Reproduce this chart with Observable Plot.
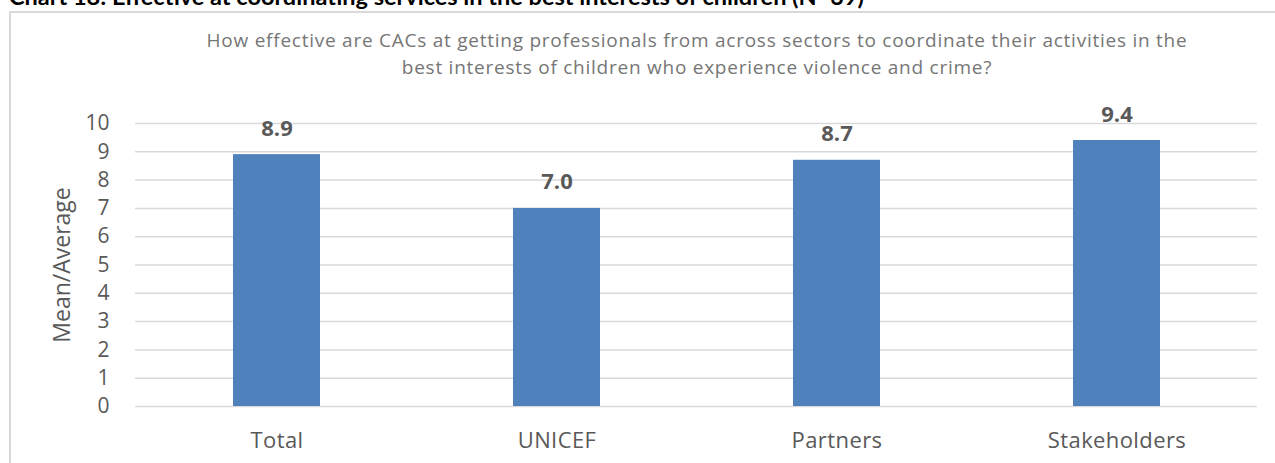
<!DOCTYPE html>
<html>
<head>
<meta charset="utf-8">
<script src="https://cdn.jsdelivr.net/npm/d3@7"></script>
<script src="https://cdn.jsdelivr.net/npm/@observablehq/plot@0.6"></script>
<style>
  html, body { margin: 0; padding: 0; background: #fff; overflow: hidden; }
  #wrap { position: relative; width: 1275px; height: 463px; font-family: "Open Sans", sans-serif; }
  #heading { position: absolute; left: 9px; top: -18px; font-family: Lato, sans-serif; font-size: 23.5px; font-weight: bold; color: #000; white-space: nowrap; }
  #box { position: absolute; left: 9px; top: 11px; width: 1300px; height: 500px; border: 1px solid #D9D9D9; border-width: 2px 0 0 2px; box-sizing: border-box; }
  #sub { position: absolute; left: 100px; width: 1194px; top: 27px; text-align: center; font-size: 19px; letter-spacing: 0.75px; line-height: 27px; color: #767676; }
  #chart { position: absolute; left: 0; top: 0; }
  #chart svg g[aria-label="x-axis tick label"] text { letter-spacing: 0.4px; }
</style>
</head>
<body>
<div id="wrap">
  <div id="heading">Chart 18: Effective at coordinating services in the best interests of children (N=39)</div>
  <div id="box"></div>
  <div id="sub">How effective are CACs at getting professionals from across sectors to coordinate their activities in the<br>best interests of children who experience violence and crime?</div>
  <div id="chart"></div>
</div>
<script>
const categories = ["Total", "UNICEF", "Partners", "Stakeholders"];
const values = [8.9, 7.0, 8.7, 9.4];
const yTicks = [0, 1, 2, 3, 4, 5, 6, 7, 8, 9, 10];
const yLabel = "Mean/Average";

const data = categories.map((c, i) => ({category: c, value: values[i]}));

const chart = Plot.plot({
  width: 1275,
  height: 463,
  marginLeft: 135,
  marginRight: 18,
  marginTop: 123,
  marginBottom: 57,
  style: {fontFamily: "'Open Sans', sans-serif", background: "transparent", color: "#595959"},
  x: {domain: categories, paddingInner: 0.69, paddingOuter: 0.345, label: null},
  y: {domain: [0, 10], ticks: yTicks, label: yLabel},
  marks: [
    Plot.ruleY(yTicks, {stroke: "#D9D9D9", strokeWidth: 1.5}),
    Plot.barY(data, {x: "category", y: "value", fill: "#4F81BD"}),
    Plot.text(data, {x: "category", y: "value", text: d => d.value.toFixed(1), dy: -26, fontSize: 22, fontWeight: "bold", fill: "#595959"}),
    Plot.axisY({ticks: yTicks, tickSize: 0, tickPadding: 26, fontSize: 21, fill: "#595959", label: null}),
    Plot.axisY({ticks: [], tickSize: 0, label: yLabel, labelAnchor: "center", labelOffset: 82, labelArrow: "none", fontSize: 23, fill: "#595959"}),
    Plot.axisX({tickSize: 0, tickPadding: 26, fontSize: 22, fill: "#595959", label: null})
  ]
});
document.getElementById("chart").appendChild(chart);
</script>
</body>
</html>
